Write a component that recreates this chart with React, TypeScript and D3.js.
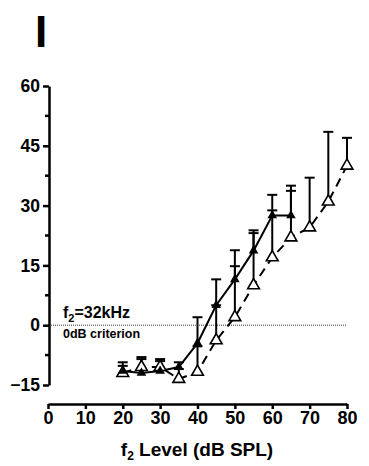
import React, { useEffect, useRef } from "react";
import * as d3 from "d3";

// f2 levels (dB SPL)
const levelsFilled = [20, 25, 30, 35, 40, 45, 50, 55, 60, 65];
const valuesFilled = [-11.5, -12, -11.5, -10.5, -4.5, 5, 11.5, 18.7, 27.5, 27.5];
const topsFilled = [-9.3, -8, -8.5, -9.3, 2, 11.5, 18.8, 23.8, 32.7, 35];

const levelsOpen = [20, 25, 30, 35, 40, 45, 50, 55, 60, 65, 70, 75, 80];
const valuesOpen = [-12, -10.5, -10.5, -13.5, -11.7, -3.8, 2, 10, 17, 22, 24.5, 31, 40];
const topsOpen = [-10.2, -8.5, -9, -11, -5.3, 5, 14.8, 23.1, 28.8, 33.7, 37, 48.5, 47];

const yTicks = [-15, 0, 15, 30, 45, 60];
const xTicks = [0, 10, 20, 30, 40, 50, 60, 70, 80];

export default function App() {
  const ref = useRef<SVGSVGElement>(null);

  useEffect(() => {
    const svg = d3.select(ref.current);
    svg.selectAll("*").remove();
    const font = "Liberation Sans, Arial, sans-serif";

    const x = d3.scaleLinear().domain([0, 80]).range([48, 347]);
    const y = d3.scaleLinear().domain([-15, 60]).range([385, 86]);

    // panel letter
    svg.append("text").attr("x", 35).attr("y", 47).attr("font-family", font)
      .attr("font-weight", "bold").attr("font-size", 44).text("I");

    // y axis
    const yAxis = svg.append("g").attr("transform", "translate(49,0)")
      .call(d3.axisLeft(y).tickValues(yTicks).tickSize(6).tickSizeOuter(0).tickPadding(3));
    yAxis.select(".domain").attr("stroke-width", 2.5);
    yAxis.selectAll(".tick line").attr("stroke-width", 2.5);
    yAxis.selectAll(".tick text").attr("font-family", font).attr("font-weight", "bold")
      .attr("font-size", 17.5).attr("fill", "#000");
    const minor = d3.range(-7.5, 60, 15);
    yAxis.selectAll(".minor").data(minor).join("line").attr("class", "minor")
      .attr("x1", -4).attr("x2", 0).attr("y1", (d) => y(d)).attr("y2", (d) => y(d))
      .attr("stroke", "#000").attr("stroke-width", 2.5);

    // x axis
    const xAxis = svg.append("g").attr("transform", "translate(0,404)")
      .call(d3.axisBottom(x).tickValues(xTicks).tickSize(5).tickSizeOuter(0).tickPadding(2));
    xAxis.select(".domain").attr("stroke-width", 2.5);
    xAxis.selectAll(".tick line").attr("stroke-width", 2.5);
    xAxis.selectAll(".tick text").attr("font-family", font).attr("font-weight", "bold")
      .attr("font-size", 18).attr("fill", "#000");

    // axis title
    const title = svg.append("text").attr("x", 197).attr("y", 456).attr("text-anchor", "middle")
      .attr("font-family", font).attr("font-weight", "bold").attr("font-size", 19);
    title.append("tspan").text("f");
    title.append("tspan").attr("font-size", 12).attr("dy", 4).text("2");
    title.append("tspan").attr("dy", -4).text(" Level (dB SPL)");

    // 0 dB criterion line
    svg.append("line").attr("x1", 49).attr("x2", x(80)).attr("y1", y(0)).attr("y2", y(0))
      .attr("stroke", "#000").attr("stroke-width", 0.8).attr("stroke-dasharray", "1,1");

    const lbl = svg.append("text").attr("x", 63).attr("y", 318).attr("font-family", font)
      .attr("font-weight", "bold").attr("font-size", 16);
    lbl.append("tspan").text("f");
    lbl.append("tspan").attr("font-size", 11).attr("dy", 4).text("2");
    lbl.append("tspan").attr("dy", -4).text("=32kHz");
    svg.append("text").attr("x", 63).attr("y", 338).attr("font-family", font)
      .attr("font-weight", "bold").attr("font-size", 12.5).text("0dB criterion");

    const line = d3.line<[number, number]>().x((d) => x(d[0])).y((d) => y(d[1]));

    const openPts = levelsOpen.map((l, i) => [l, valuesOpen[i]] as [number, number]);
    const fillPts = levelsFilled.map((l, i) => [l, valuesFilled[i]] as [number, number]);

    // error bars (upward)
    const drawErr = (levels: number[], vals: number[], tops: number[]) => {
      const g = svg.append("g").attr("stroke", "#000").attr("stroke-width", 2);
      levels.forEach((l, i) => {
        g.append("line").attr("x1", x(l)).attr("x2", x(l)).attr("y1", y(vals[i])).attr("y2", y(tops[i]));
        g.append("line").attr("x1", x(l) - 5).attr("x2", x(l) + 5).attr("y1", y(tops[i])).attr("y2", y(tops[i]));
      });
    };
    drawErr(levelsOpen, valuesOpen, topsOpen);
    drawErr(levelsFilled, valuesFilled, topsFilled);

    svg.append("path").attr("d", line(openPts)).attr("fill", "none").attr("stroke", "#000")
      .attr("stroke-width", 2).attr("stroke-dasharray", "9,6");
    svg.append("path").attr("d", line(fillPts)).attr("fill", "none").attr("stroke", "#000")
      .attr("stroke-width", 2);

    const tri = d3.symbol().type(d3.symbolTriangle);
    svg.selectAll(".open").data(openPts).join("path").attr("class", "open")
      .attr("d", tri.size(60)()).attr("transform", (d) => `translate(${x(d[0])},${y(d[1])})`)
      .attr("fill", "#fff").attr("stroke", "#000").attr("stroke-width", 1.6);
    svg.selectAll(".filled").data(fillPts).join("path").attr("class", "filled")
      .attr("d", d3.symbol().type(d3.symbolTriangle).size(40)()).attr("transform", (d) => `translate(${x(d[0])},${y(d[1])})`)
      .attr("fill", "#000");
  }, []);

  return <svg ref={ref} width={369} height={466} style={{ position: "absolute", left: 0, top: 0 }} />;
}
